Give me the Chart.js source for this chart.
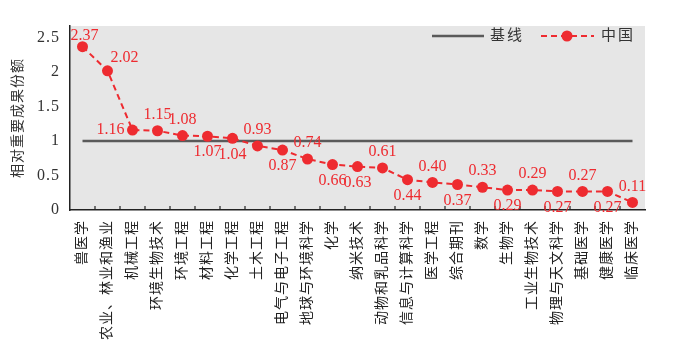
<!DOCTYPE html>
<html lang="zh">
<head>
    <meta charset="UTF-8">
    <title>相对重要成果份额</title>
    <script src="https://cdn.jsdelivr.net/npm/chart.js"></script>
    <style>
        body {
            margin: 0;
            background: #fff;
        }

        .chart-box {
            position: relative;
            width: 685px;
            height: 354px;
        }
    </style>
</head>
<body>
    <div class="chart-box">
        <canvas id="shareChart"></canvas>
    </div>
    <script>
// Data
const fields = [
    "兽医学", "农业、林业和渔业", "机械工程", "环境生物技术", "环境工程", "材料工程",
    "化学工程", "土木工程", "电气与电子工程", "地球与环境科学", "化学", "纳米技术",
    "动物和乳品科学", "信息与计算科学", "医学工程", "综合期刊", "数学", "生物学",
    "工业生物技术", "物理与天文科学", "基础医学", "健康医学", "临床医学"
];
const chinaShare = [
    2.37, 2.02, 1.16, 1.15, 1.08, 1.07, 1.04, 0.93, 0.87, 0.74, 0.66, 0.63,
    0.61, 0.44, 0.40, 0.37, 0.33, 0.29, 0.29, 0.27, 0.27, 0.27, 0.11
];
const baseline = [1, 1, 1, 1, 1, 1, 1, 1, 1, 1, 1, 1, 1, 1, 1, 1, 1, 1, 1, 1, 1, 1, 1];
const yTicks = [0, 0.5, 1, 1.5, 2, 2.5];
const seriesNames = ["基线", "中国"];

// where each value label sits relative to its point
const labelSide = [
    "top", "aboveRight", "left", "above", "above", "below", "below", "above",
    "below", "above", "below", "below", "above", "below", "above", "below",
    "above", "below", "above", "below", "above", "below", "above"
];

const RED = "#ee2b30";
const GREY = "#5a5a5a";
const SERIF = '"Liberation Serif", "Noto Sans CJK SC", serif';

// grey plot background + wider glyph spacing for the CJK labels
const plotBackground = {
    id: "plotBackground",
    beforeDraw(chart) {
        const { ctx, chartArea } = chart;
        ctx.save();
        ctx.fillStyle = "#e6e6e6";
        ctx.fillRect(chartArea.left, chartArea.top, chartArea.right - chartArea.left, chartArea.bottom - chartArea.top);
        ctx.restore();
        ctx.letterSpacing = "1px";
    },
    beforeDatasetsDraw(chart) {
        chart.ctx.letterSpacing = "0px";
    }
};

// small ticks pointing into the plot, between categories
const innerTicks = {
    id: "innerTicks",
    afterDatasetsDraw(chart) {
        const { ctx, chartArea } = chart;
        const x = chart.scales.x;
        ctx.save();
        ctx.strokeStyle = "#222";
        ctx.lineWidth = 1.2;
        for (let i = 0; i < fields.length - 1; i++) {
            const px = (x.getPixelForValue(i) + x.getPixelForValue(i + 1)) / 2;
            ctx.beginPath();
            ctx.moveTo(px, chartArea.bottom);
            ctx.lineTo(px, chartArea.bottom - 4);
            ctx.stroke();
        }
        ctx.restore();
    }
};

const valueLabels = {
    id: "valueLabels",
    afterDatasetsDraw(chart) {
        const ctx = chart.ctx;
        const meta = chart.getDatasetMeta(1);
        ctx.save();
        ctx.font = "16px " + SERIF;
        ctx.fillStyle = RED;
        ctx.textAlign = "center";
        ctx.textBaseline = "middle";
        meta.data.forEach((pt, i) => {
            let dx = 0, dy = 0;
            const side = labelSide[i];
            if (side === "above") dy = -16;
            else if (side === "top") { dx = 2; dy = -11; }
            else if (side === "below") dy = 16;
            else if (side === "left") dx = -22;
            else if (side === "aboveRight") { dx = 17; dy = -13; }
            ctx.fillText(chinaShare[i].toFixed(2), pt.x + dx, pt.y + dy);
        });
        ctx.restore();
    }
};

// legend drawn inside the plot, top right: line swatch, line+marker swatch
const legendBox = {
    id: "legendBox",
    afterDraw(chart) {
        const { ctx, chartArea } = chart;
        const y = chartArea.top + 10;
        const x0 = chartArea.right - 213;
        ctx.save();
        ctx.font = "15px " + SERIF;
        ctx.fillStyle = "#333";
        ctx.textBaseline = "middle";
        ctx.letterSpacing = "2px";

        ctx.strokeStyle = GREY;
        ctx.lineWidth = 2.5;
        ctx.beginPath();
        ctx.moveTo(x0, y);
        ctx.lineTo(x0 + 52, y);
        ctx.stroke();
        ctx.fillText(seriesNames[0], x0 + 58, y);

        ctx.strokeStyle = RED;
        ctx.lineWidth = 2;
        ctx.setLineDash([6, 4]);
        ctx.beginPath();
        ctx.moveTo(x0 + 109, y);
        ctx.lineTo(x0 + 162, y);
        ctx.stroke();
        ctx.setLineDash([]);
        ctx.fillStyle = RED;
        ctx.beginPath();
        ctx.arc(x0 + 135, y, 5.5, 0, Math.PI * 2);
        ctx.fill();
        ctx.fillStyle = "#333";
        ctx.fillText(seriesNames[1], x0 + 169, y);
        ctx.restore();
    }
};

const ctx = document.getElementById("shareChart").getContext("2d");
new Chart(ctx, {
    type: "line",
    data: {
        labels: fields,
        datasets: [
            {
                label: seriesNames[0],
                data: baseline,
                borderColor: GREY,
                borderWidth: 2.5,
                pointRadius: 0,
                order: 2,
            },
            {
                label: seriesNames[1],
                data: chinaShare,
                borderColor: RED,
                backgroundColor: RED,
                borderWidth: 2,
                borderDash: [6, 4],
                pointRadius: 5.5,
                pointBorderWidth: 0,
                tension: 0,
                order: 1,
            },
        ],
    },
    options: {
        responsive: true,
        maintainAspectRatio: false,
        animation: false,
        layout: {
            padding: { top: 26, right: 40, left: 0, bottom: 0 },
        },
        plugins: {
            legend: { display: false },
            tooltip: { enabled: false },
        },
        scales: {
            x: {
                offset: true,
                grid: { display: false, drawTicks: false },
                border: { display: true, color: "#222", width: 1.5 },
                ticks: {
                    autoSkip: false,
                    minRotation: 90,
                    maxRotation: 90,
                    padding: 10,
                    color: "#222",
                    font: { family: SERIF, size: 14 },
                },
                afterFit(scale) {
                    scale.height = 144;
                },
            },
            y: {
                min: 0,
                max: 2.67,
                grid: { display: false, drawTicks: false },
                border: { display: true, color: "#222", width: 1.5 },
                afterBuildTicks(scale) {
                    scale.ticks = yTicks.map(v => ({ value: v }));
                },
                ticks: {
                    padding: 10,
                    color: "#333",
                    font: { family: SERIF, size: 16 },
                    callback: value => String(value),
                },
                title: {
                    display: true,
                    text: "相对重要成果份额",
                    color: "#333",
                    padding: { top: 10, bottom: 0 },
                    font: { family: SERIF, size: 14 },
                },
                afterFit(scale) {
                    scale.width = 70;
                },
            },
        },
    },
    plugins: [plotBackground, innerTicks, valueLabels, legendBox],
});
    </script>
</body>
</html>
